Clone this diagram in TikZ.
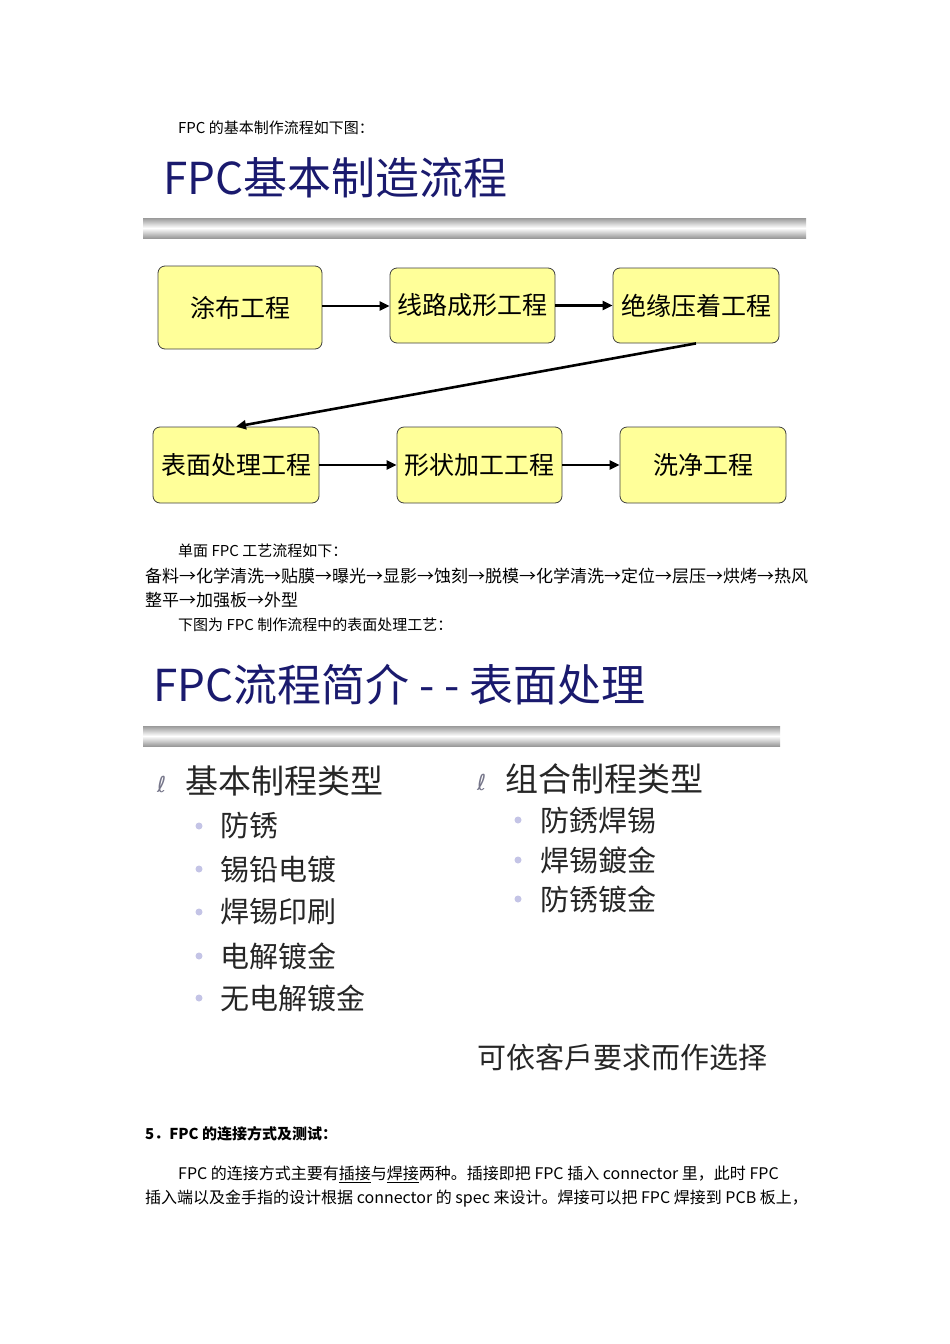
\documentclass[tikz,border=0pt]{standalone}
\usepackage{fontspec}
\setmainfont{Noto Sans CJK SC}
\newfontfamily\dv{DejaVu Sans}
\usetikzlibrary{arrows.meta}
\definecolor{boxfill}{HTML}{FFFF99}
\definecolor{navy}{HTML}{1A1A6E}
\definecolor{bar}{HTML}{9A9A9A}
\definecolor{dotc}{HTML}{C4C4E6}
\tikzset{
 x=1pt,y=-1pt,
 procbox/.style={draw=black!75,fill=boxfill,rounded corners=7pt,line width=0.8pt,font=\fontsize{25}{28}\selectfont,inner sep=0pt},
 flow/.style={-{Triangle[length=10pt,width=9pt]},line width=2.6pt},
 body/.style={anchor=west,inner sep=0pt,font=\fontsize{15}{17}\selectfont},
 ptitle/.style={anchor=west,inner sep=0pt,text=navy,font=\fontsize{44}{48}\selectfont},
 head/.style={anchor=west,inner sep=0pt,text=black!85,font=\fontsize{33}{36}\selectfont},
 item/.style={anchor=west,inner sep=0pt,text=black!85,font=\fontsize{29}{32}\selectfont},
 bdot/.style={circle,fill=dotc,inner sep=0pt,minimum size=7pt},
}
\begin{document}
\begin{tikzpicture}
\useasboundingbox[fill=white] (0,0) rectangle (950,1344);
\node[body] (t1) at (178,128) {FPC 的基本制作流程如下图：};
\node[ptitle] (title1) at (163,178) {FPC基本制造流程};
\shade[top color=bar,bottom color=bar,middle color=white] (143,218) rectangle (806,238);
\node[procbox,minimum width=164pt,minimum height=83pt] (a) at (240,307.5) {涂布工程};
\node[procbox,minimum width=165pt,minimum height=75pt] (b) at (472.5,305.5) {线路成形工程};
\node[procbox,minimum width=166pt,minimum height=75pt] (c) at (696,305.5) {绝缘压着工程};
\node[procbox,minimum width=166pt,minimum height=76pt] (d) at (236,465) {表面处理工程};
\node[procbox,minimum width=165pt,minimum height=76pt] (e) at (479.5,465) {形状加工工程};
\node[procbox,minimum width=166pt,minimum height=76pt] (f) at (703,465) {洗净工程};
\draw[flow] (a.east|-0,306) -- (b.west|-0,306);
\draw[flow] (b.east) -- (c.west);
\draw[flow] (c.south) -- (d.north);
\draw[flow] (d.east) -- (e.west);
\draw[flow] (e.east) -- (f.west);
\node[body] (t2) at (178,551) {单面 FPC 工艺流程如下：};
\node[body,font=\fontsize{17}{19}\selectfont] (t3) at (145,576) {备料→化学清洗→贴膜→曝光→显影→蚀刻→脱模→化学清洗→定位→层压→烘烤→热风};
\node[body,font=\fontsize{17}{19}\selectfont] (t4) at (145,600) {整平→加强板→外型};
\node[body] (t5) at (178,625) {下图为 FPC 制作流程中的表面处理工艺：};
\node[ptitle] (title2) at (153,685) {FPC流程简介 - - 表面处理};
\shade[top color=bar,bottom color=bar,middle color=white] (143,726) rectangle (780,746);
\node[anchor=west,inner sep=0pt,text=dotc!60!black,font=\dv\fontsize{22}{24}\selectfont\itshape] (s1) at (157,784) {ℓ};
\node[head] (h1) at (185,781) {基本制程类型};
\node[anchor=west,inner sep=0pt,text=dotc!60!black,font=\dv\fontsize{22}{24}\selectfont\itshape] (s2) at (477,782) {ℓ};
\node[head] (h2) at (505,779) {组合制程类型};
\foreach \y/\t [count=\i] in {826/防锈,869/锡铅电镀,912/焊锡印刷,956/电解镀金,998/无电解镀金}{
 \node[bdot] (ld\i) at (199,\y) {};
 \node[item] (li\i) at (220,\y) {\t};
}
\foreach \y/\t [count=\i] in {820/防銹焊锡,860/焊锡鍍金,899/防锈镀金}{
 \node[bdot] (rd\i) at (518,\y) {};
 \node[item] (ri\i) at (540,\y) {\t};
}
\node[item] (note) at (477,1057) {可依客戶要求而作选择};
\node[body,font=\fontsize{15}{17}\selectfont\bfseries] (sec) at (145,1134) {5．FPC 的连接方式及测试：};
\node[body,font=\fontsize{16}{18}\selectfont] (p1) at (178,1174) {FPC 的连接方式主要有\underline{插接}与\underline{焊接}两种。插接即把 FPC 插入 connector 里，此时 FPC};
\node[body,font=\fontsize{16}{18}\selectfont] (p2) at (145,1199) {插入端以及金手指的设计根据 connector 的 spec 来设计。焊接可以把 FPC 焊接到 PCB 板上，};
\end{tikzpicture}
\end{document}
